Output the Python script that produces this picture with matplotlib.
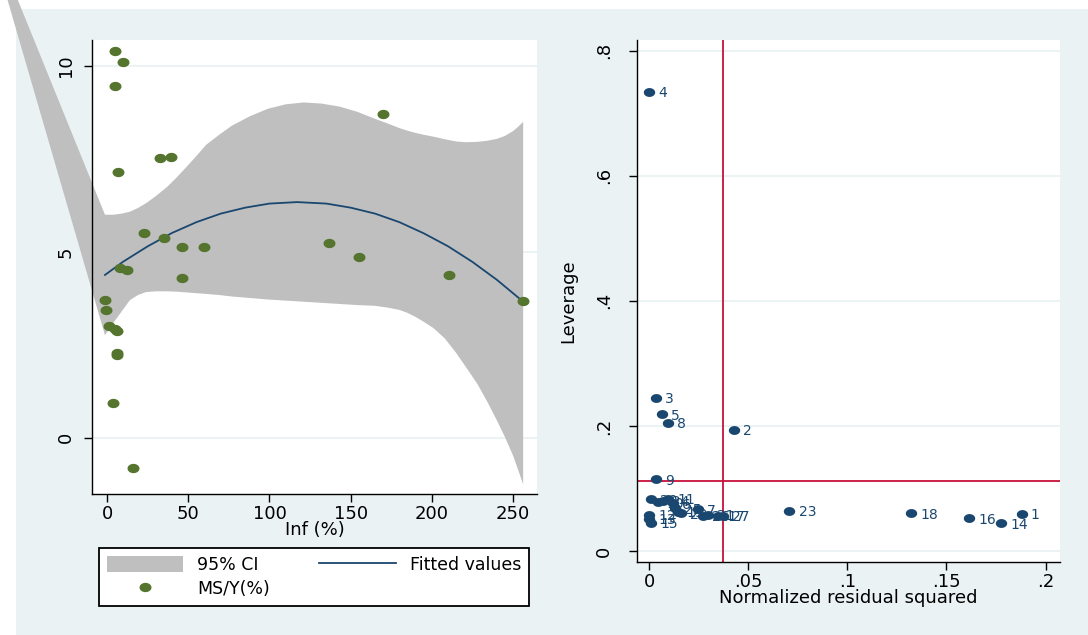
import numpy as np
import matplotlib
matplotlib.use("Agg")
import matplotlib.pyplot as plt
from matplotlib.path import Path
from matplotlib.patches import Polygon, Rectangle, Patch
from matplotlib.lines import Line2D

plt.rcParams['font.family'] = ['DejaVu Sans']

# ---------------- data: left panel (MS/Y vs Inf) ----------------
inf_pct = [5.1, 9.5, 5.1, 170.0, 32.6, 39.4, 6.8, 22.7, 34.8, 46.2, 59.4, 136.8, 154.9,
           8.2, 12.1, 46.2, 210.5, 256.0, -1.3, -0.4, 1.3, 4.6, 6.2, 6.0, 6.4, 3.6, 15.9]
ms_y = [10.41, 10.11, 9.46, 8.71, 7.53, 7.56, 7.16, 5.52, 5.37, 5.14, 5.12, 5.24, 4.85,
        4.57, 4.51, 4.31, 4.39, 3.67, 3.70, 3.44, 3.00, 2.93, 2.88, 2.29, 2.24, 0.94, -0.80]

fit_x = [-1.3, 10, 25, 40, 55, 70, 85, 100, 117, 135, 150, 165, 180, 195, 210, 225, 240, 256]
fit_y = [4.38, 4.74, 5.15, 5.51, 5.80, 6.03, 6.19, 6.30, 6.34, 6.30, 6.19, 6.03, 5.80,
         5.50, 5.15, 4.73, 4.25, 3.67]

band_x = [-1.3, 4, 9, 14, 19, 24, 30, 37, 43, 49, 55, 61, 69, 77, 88, 99, 110, 121, 132,
          143, 154, 165, 173, 180, 185, 190, 195, 201, 208, 215, 221, 228, 234, 240, 245,
          250, 253, 256.2]
band_hi = [6.00, 6.00, 6.03, 6.08, 6.18, 6.31, 6.50, 6.75, 7.01, 7.29, 7.58, 7.88, 8.15,
           8.40, 8.65, 8.85, 8.97, 9.02, 8.99, 8.91, 8.77, 8.58, 8.45, 8.33, 8.26, 8.20,
           8.15, 8.10, 8.03, 7.97, 7.95, 7.96, 7.99, 8.04, 8.12, 8.25, 8.36, 8.50]
band_lo = [2.76, 3.10, 3.40, 3.70, 3.84, 3.92, 3.94, 3.94, 3.93, 3.91, 3.89, 3.87, 3.84,
           3.80, 3.76, 3.72, 3.69, 3.66, 3.63, 3.60, 3.57, 3.55, 3.50, 3.44, 3.36, 3.25,
           3.12, 2.95, 2.67, 2.28, 1.90, 1.45, 0.98, 0.47, 0.02, -0.48, -0.85, -1.25]
band_far_vertex = (-77.2, 14.17)   # stray band vertex drawn outside the plot region

left_xticks = [0, 50, 100, 150, 200, 250]
left_yticks = [0, 5, 10]

# ---------------- data: right panel (leverage vs residual^2) ----------------
obs_id = list(range(1, 28))
resid_sq = [0.1879, 0.0428, 0.0034, 0.0000, 0.0063, 0.0119, 0.0246, 0.0093, 0.0036,
            0.0042, 0.0097, 0.0000, 0.0000, 0.1777, 0.0009, 0.1614, 0.0348, 0.1323,
            0.0144, 0.0009, 0.0297, 0.0162, 0.0708, 0.0068, 0.0128, 0.0272, 0.0374]
leverage = [0.0592, 0.1935, 0.2450, 0.7340, 0.2185, 0.0762, 0.0666, 0.2050, 0.1146,
            0.0778, 0.0831, 0.0576, 0.0513, 0.0443, 0.0453, 0.0520, 0.0560, 0.0600,
            0.0629, 0.0826, 0.0576, 0.0602, 0.0640, 0.0805, 0.0682, 0.0560, 0.0560]
mean_resid_sq = 0.0370
mean_leverage = 0.1119

right_xticks = [0, 0.05, 0.1, 0.15, 0.2]
right_xticklabels = ['0', '.05', '.1', '.15', '.2']
right_yticks = [0, 0.2, 0.4, 0.6, 0.8]
right_yticklabels = ['0', '.2', '.4', '.6', '.8']

# ---------------- style ----------------
BG = '#eaf2f3'
GREEN = '#55752f'
NAVY = '#1a476f'
GRAY = '#bfbfbf'
RED = '#c8103c'

W, H = 1088, 635
fig = plt.figure(figsize=(W / 100, H / 100), dpi=100, facecolor='white')
fig.patches.append(Rectangle((16 / W, 0), (W - 16) / W, (H - 9) / H,
                             transform=fig.transFigure, facecolor=BG,
                             edgecolor='none', zorder=-10))

th = np.linspace(0, 2 * np.pi, 64)
ell = Path(np.column_stack([np.cos(th), 0.78 * np.sin(th)]))


def px_axes(l, r, t, b):
    return [l / W, (H - b) / H, (r - l) / W, (b - t) / H]


def style_axes(ax, ypad):
    for s in ('top', 'right'):
        ax.spines[s].set_visible(False)
    for s in ('left', 'bottom'):
        ax.spines[s].set_linewidth(1.0)
        ax.spines[s].set_color('black')
    ax.tick_params(direction='out', length=5.5, width=1.0, labelsize=13, colors='black')
    ax.tick_params(axis='y', labelrotation=90, pad=ypad)
    ax.tick_params(axis='x', pad=2.5)
    for lab in ax.get_yticklabels():
        lab.set_va('center')
    ax.yaxis.grid(True, color=BG, lw=1.3)
    ax.set_axisbelow(True)


# ---------------- left panel ----------------
ax1 = fig.add_axes(px_axes(92.3, 536.8, 40, 494.3))
ax1.set_xlim(-9.1, 264.6)
ax1.set_ylim(-1.52, 10.70)
ax1.set_xticks(left_xticks)
ax1.set_yticks(left_yticks)
style_axes(ax1, 7)

verts = [band_far_vertex] + list(zip(band_x, band_hi)) + list(zip(band_x[::-1], band_lo[::-1]))
ci = Polygon(verts, closed=True, facecolor=GRAY, edgecolor='none', clip_on=False, zorder=1)
ax1.add_patch(ci)
ax1.plot(fit_x, fit_y, color=NAVY, lw=1.3, zorder=2)
ax1.plot(inf_pct, ms_y, ls='none', marker=ell, ms=8.6, color=GREEN, mec='none', zorder=3)
ax1.set_xlabel('Inf (%)', fontsize=13, labelpad=-2)

# legend
h_ci = Patch(facecolor=GRAY, edgecolor='none')
h_pt = Line2D([], [], ls='none', marker=ell, ms=8.6, color=GREEN, mec='none')
h_ln = Line2D([], [], color=NAVY, lw=1.3)
leg = fig.legend([h_ci, h_pt, h_ln], ['95% CI', 'MS/Y(%)', 'Fitted values'],
                 ncol=2, loc='upper left', bbox_to_anchor=(99 / W, 1 - 548 / H),
                 borderaxespad=0, fontsize=12.5, frameon=True, fancybox=False,
                 edgecolor='black', facecolor='white', framealpha=1,
                 handlelength=4.4, handleheight=1.0, handletextpad=0.8,
                 columnspacing=2.85, labelspacing=0.35, borderpad=0.45, numpoints=1)
leg.get_frame().set_linewidth(1.3)

# ---------------- right panel ----------------
ax2 = fig.add_axes(px_axes(637.4, 1060, 40, 561.7))
ax2.set_xlim(-0.00595, 0.2073)
ax2.set_ylim(-0.0171, 0.817)
ax2.set_xticks(right_xticks)
ax2.set_xticklabels(right_xticklabels)
ax2.set_yticks(right_yticks)
ax2.set_yticklabels(right_yticklabels)
style_axes(ax2, 12)

ax2.axvline(mean_resid_sq, color=RED, lw=1.3, zorder=2)
ax2.axhline(mean_leverage, color=RED, lw=1.3, zorder=2)
ax2.plot(resid_sq, leverage, ls='none', marker=ell, ms=8.2, color=NAVY, mec='none', zorder=3)
for xi, yi, lab in zip(resid_sq, leverage, obs_id):
    ax2.annotate(str(lab), (xi, yi), xytext=(6.5, -1), textcoords='offset points',
                 fontsize=10, color=NAVY, ha='left', va='center', zorder=4)
ax2.set_xlabel('Normalized residual squared', fontsize=13, labelpad=-1.5)
ax2.set_ylabel('Leverage', fontsize=13, labelpad=13)

fig.savefig('out.png', dpi=100, facecolor=fig.get_facecolor())
